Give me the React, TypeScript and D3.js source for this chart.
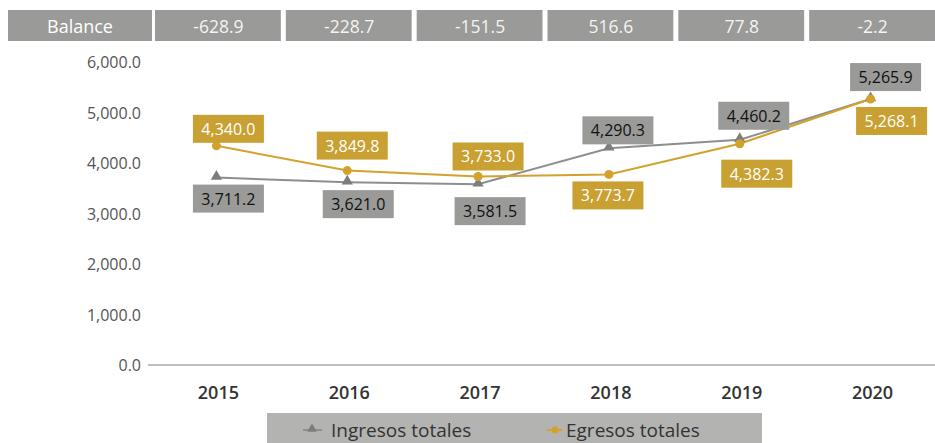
import { useEffect, useRef } from 'react'
import * as d3 from 'd3'

const years = ['2015', '2016', '2017', '2018', '2019', '2020']
const balance = ['-628.9', '-228.7', '-151.5', '516.6', '77.8', '-2.2']
const ingresos = [3711.2, 3621.0, 3581.5, 4290.3, 4460.2, 5265.9]
const egresos = [4340.0, 3849.8, 3733.0, 3773.7, 4382.3, 5268.1]
const yTicks = [0, 1000, 2000, 3000, 4000, 5000, 6000]

/* hand placed label offsets from each point (box centre) */
const ingresosLabelOff = [[12, 21], [11, 22], [12, 27], [9, -18], [14, -24], [15, -22]]
const egresosLabelOff = [[12, -17], [5, -25], [10, -20], [-1, 21], [17, 30], [21, 22]]

const W = 935
const H = 443
const GOLD = '#c9a032'
const GOLD_LINE = '#d3a22c'
const GRAY = '#9a9a98'
const GRAY_LINE = '#8e8e8e'
const FONT = '"Open Sans", "Noto Sans", sans-serif'

export default function App() {
    const svgRef = useRef<SVGSVGElement | null>(null)

    useEffect(() => {
        const svg = d3.select(svgRef.current)
        svg.selectAll('*').remove()
        svg.attr('width', W).attr('height', H).style('font-family', FONT)

        const x = d3.scaleBand().domain(years).range([151, 936]).padding(0)
        const cx = (d: string) => (x(d) as number) + x.bandwidth() / 2
        const y = d3.scaleLinear().domain([0, 6000]).range([365, 62])

        // header row
        svg.append('rect').attr('x', 8).attr('y', 10).attr('width', 144).attr('height', 31).attr('fill', GRAY)
        svg.append('text').attr('x', 80).attr('y', 26).attr('text-anchor', 'middle')
            .attr('dominant-baseline', 'central').attr('fill', '#fff').attr('font-size', 18).text('Balance')
        const head = svg.append('g')
        head.selectAll('rect').data(years).enter().append('rect')
            .attr('x', d => (x(d) as number) + 4)
            .attr('y', 10)
            .attr('width', x.bandwidth() - 5)
            .attr('height', 31)
            .attr('fill', GRAY)
        head.selectAll('text').data(years).enter().append('text')
            .attr('x', d => cx(d) + 2)
            .attr('y', 26)
            .attr('text-anchor', 'middle')
            .attr('dominant-baseline', 'central')
            .attr('fill', '#f4f4f2')
            .attr('font-size', 17.5)
            .text((d, i) => balance[i])

        // y axis labels
        svg.append('g').selectAll('text').data(yTicks).enter().append('text')
            .attr('x', 141)
            .attr('y', d => y(d))
            .attr('text-anchor', 'end')
            .attr('dominant-baseline', 'central')
            .attr('fill', '#555')
            .attr('font-size', 16)
            .text(d => d3.format(',.1f')(d))

        // baseline
        svg.append('line').attr('x1', 148).attr('x2', W).attr('y1', y(0)).attr('y2', y(0))
            .attr('stroke', '#aaa').attr('stroke-width', 1.5)

        // x labels
        svg.append('g').selectAll('text').data(years).enter().append('text')
            .attr('x', d => cx(d) + 2)
            .attr('y', 392)
            .attr('text-anchor', 'middle')
            .attr('dominant-baseline', 'central')
            .attr('fill', '#333')
            .attr('font-size', 18)
            .attr('font-weight', 600)
            .text(d => d)

        const line = d3.line<number>().x((d, i) => cx(years[i])).y(d => y(d))

        // series lines
        svg.append('path').attr('d', line(ingresos)).attr('fill', 'none').attr('stroke', GRAY_LINE).attr('stroke-width', 2)
        svg.append('path').attr('d', line(egresos)).attr('fill', 'none').attr('stroke', GOLD_LINE).attr('stroke-width', 2)

        // markers
        const tri = d3.symbol().type(d3.symbolTriangle).size(55)
        svg.append('g').selectAll('path').data(ingresos).enter().append('path')
            .attr('d', tri)
            .attr('transform', (d, i) => `translate(${cx(years[i])},${y(d) - 1})`)
            .attr('fill', '#7d7d7d')
        svg.append('g').selectAll('circle').data(egresos).enter().append('circle')
            .attr('cx', (d, i) => cx(years[i]))
            .attr('cy', d => y(d))
            .attr('r', 4.5)
            .attr('fill', GOLD_LINE)

        // value labels
        function labels(vals: number[], offs: number[][], bg: string, fg: string) {
            const g = svg.append('g')
            const bw = 71
            const bh = 28
            vals.forEach((v, i) => {
                const px = cx(years[i]) + offs[i][0]
                const py = y(v) + offs[i][1]
                g.append('rect').attr('x', px - bw / 2).attr('y', py - bh / 2)
                    .attr('width', bw).attr('height', bh).attr('fill', bg)
                g.append('text').attr('x', px).attr('y', py)
                    .attr('text-anchor', 'middle').attr('dominant-baseline', 'central')
                    .attr('fill', fg).attr('font-size', 16)
                    .text(d3.format(',.1f')(v))
            })
        }
        labels(egresos, egresosLabelOff, GOLD, '#fff')
        labels(ingresos, ingresosLabelOff, GRAY, '#111')

        // legend
        const lg = svg.append('g')
        lg.append('rect').attr('x', 267).attr('y', 413).attr('width', 495).attr('height', 32).attr('fill', '#b3b3b1')
        lg.append('line').attr('x1', 303).attr('x2', 322).attr('y1', 430).attr('y2', 430).attr('stroke', GRAY_LINE).attr('stroke-width', 2)
        lg.append('path').attr('d', d3.symbol().type(d3.symbolTriangle).size(40)).attr('transform', 'translate(312,429)').attr('fill', '#7d7d7d')
        lg.append('text').attr('x', 331).attr('y', 430).attr('dominant-baseline', 'central')
            .attr('fill', '#333').attr('font-size', 19).text('Ingresos totales')
        lg.append('line').attr('x1', 547).attr('x2', 562).attr('y1', 430).attr('y2', 430).attr('stroke', GOLD_LINE).attr('stroke-width', 2)
        lg.append('circle').attr('cx', 555).attr('cy', 430).attr('r', 3.5).attr('fill', GOLD_LINE)
        lg.append('text').attr('x', 566).attr('y', 430).attr('dominant-baseline', 'central')
            .attr('fill', '#333').attr('font-size', 19).text('Egresos totales')
    }, [])

    return <svg ref={svgRef} style={{ position: 'absolute', left: 0, top: 0, background: '#fff' }}></svg>
}
